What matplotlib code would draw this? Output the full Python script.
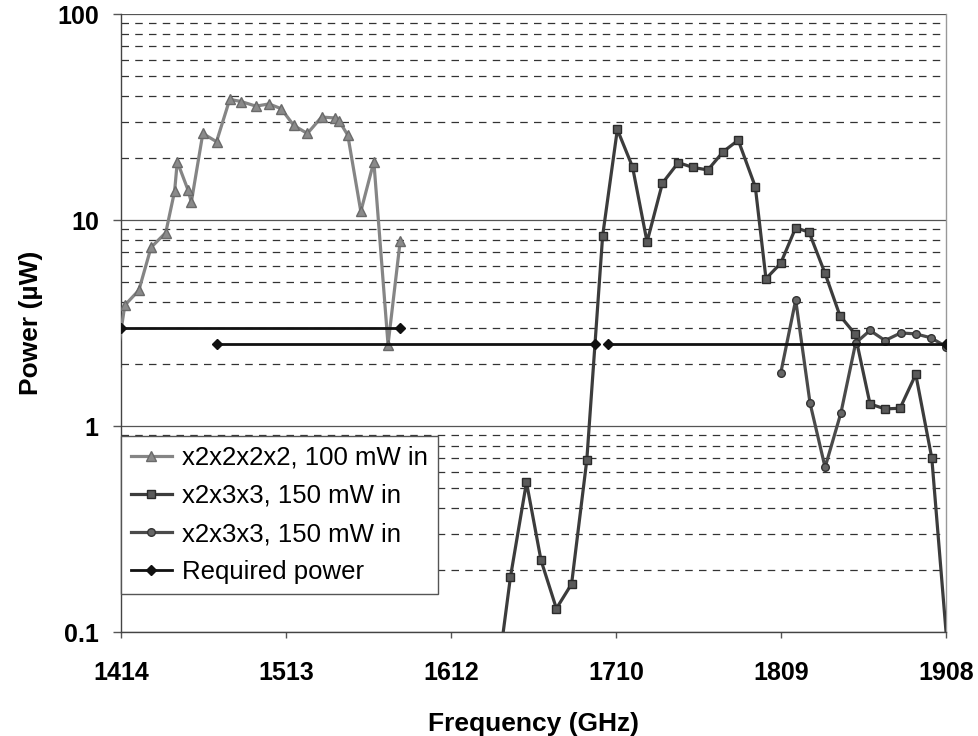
import numpy as np
from matplotlib import pyplot as plt
from matplotlib.ticker import FixedLocator, NullFormatter

plt.rcParams['font.family'] = ['Liberation Sans', 'DejaVu Sans']

# x2x2x2x2, 100 mW in
tri_f = [1411, 1416.3, 1424.7, 1432.0, 1440.8, 1446.1, 1447.7, 1454.1, 1456.1, 1463.0,
         1471.2, 1479.1, 1485.9, 1494.8, 1502.6, 1509.9, 1517.4, 1525.6, 1534.1, 1541.9,
         1544.8, 1549.8, 1557.6, 1565.4, 1573.9, 1581.2]
tri_p = [2.0, 3.86, 4.56, 7.36, 8.68, 13.8, 19.2, 14.0, 12.2, 26.3,
         24.0, 38.5, 37.6, 35.7, 36.6, 34.7, 28.8, 26.3, 31.6, 31.3,
         30.1, 25.8, 11.0, 19.2, 2.48, 7.93]

# x2x3x3, 150 mW in (squares)
sq_f = [1638, 1647.2, 1656.8, 1665.5, 1674.7, 1683.8, 1692.9, 1702.4, 1711.2, 1720.3,
        1729.0, 1738.2, 1747.7, 1756.4, 1765.4, 1774.7, 1783.6, 1793.8, 1800.2, 1809.0,
        1818.0, 1826.0, 1835.6, 1844.5, 1853.5, 1862.5, 1871.5, 1880.5, 1889.9, 1899.5, 1909]
sq_p = [0.05, 0.185, 0.533, 0.223, 0.130, 0.171, 0.681, 8.38, 27.5, 18.1,
        7.83, 15.1, 19.0, 18.0, 17.5, 21.5, 24.4, 14.5, 5.19, 6.16,
        9.17, 8.73, 5.50, 3.43, 2.80, 1.28, 1.21, 1.22, 1.78, 0.698, 0.08]

# x2x3x3, 150 mW in (circles)
ci_f = [1809.0, 1818.0, 1826.6, 1835.6, 1845.1, 1853.9, 1862.5, 1871.5, 1880.9, 1889.9,
        1899.0, 1908.0, 1912]
ci_p = [1.80, 4.09, 1.29, 0.63, 1.16, 2.53, 2.91, 2.60, 2.83, 2.80,
        2.68, 2.43, 1.9]

# Required power
req_f = [1414, 1581.2, np.nan, 1471.2, 1698.0, np.nan, 1705.7, 1908]
req_p = [3.0, 3.0, np.nan, 2.5, 2.5, np.nan, 2.5, 2.5]

x_ticks = [1414, 1513, 1612, 1710, 1809, 1908]

fig = plt.figure(figsize=(9.79, 7.36), dpi=100)
ax = fig.add_axes([121/979, 1 - 632/736, 825/979, 618/736])

ax.plot(tri_f, tri_p, color='#858585', lw=2.3, marker='^', ms=7,
        mfc='#8a8a8a', mec='#6a6a6a', label='x2x2x2x2, 100 mW in', zorder=3)
ax.plot(sq_f, sq_p, color='#3c3c3c', lw=2.3, marker='s', ms=5.5,
        mfc='#5a5a5a', mec='#2a2a2a', label='x2x3x3, 150 mW in', zorder=3)
ax.plot(ci_f, ci_p, color='#4a4a4a', lw=2.3, marker='o', ms=5.5,
        mfc='#666666', mec='#333333', label='x2x3x3, 150 mW in', zorder=3)
ax.plot(req_f, req_p, color='#111111', lw=2.0, marker='D', ms=5,
        mfc='#111111', mec='#111111', label='Required power', zorder=4)

ax.set_yscale('log')
ax.set_ylim(0.1, 100)
ax.set_xlim(1414, 1908)

ax.set_xticks(np.linspace(1414, 1908, 6))
ax.set_xticklabels([str(t) for t in x_ticks])
ax.set_yticks([0.1, 1, 10, 100])
ax.set_yticklabels(['0.1', '1', '10', '100'])
ax.yaxis.set_minor_locator(FixedLocator(
    [m * 10.0**e for e in (-1, 0, 1) for m in range(2, 10)]))
ax.yaxis.set_minor_formatter(NullFormatter())
ax.tick_params(axis='y', which='minor', length=0)
ax.tick_params(axis='y', which='major', length=6, width=1, color='#555555',
               labelsize=18, pad=10)
ax.tick_params(axis='x', which='major', length=4, width=1, color='#555555',
               labelsize=18, pad=17)
for lab in ax.get_xticklabels() + ax.get_yticklabels():
    lab.set_fontweight('bold')

ax.yaxis.grid(True, which='major', color='#555555', lw=0.9, ls='-')
ax.yaxis.grid(True, which='minor', color='#333333', lw=0.9, ls=(0, (6, 5)))
ax.set_axisbelow(True)

for s in ['left', 'bottom', 'right']:
    ax.spines[s].set_color('#444444')
    ax.spines[s].set_linewidth(1.0)
ax.spines['right'].set_color('#999999')
ax.spines['top'].set_visible(False)

ax.set_xlabel('Frequency (GHz)', fontsize=19, fontweight='bold', labelpad=19)
ax.set_ylabel('Power (µW)', fontsize=19, fontweight='bold', labelpad=10)

leg = ax.legend(loc='upper left', bbox_to_anchor=(0.0, (632 - 436) / 618),
                borderaxespad=0, fontsize=18.5, frameon=True, fancybox=False,
                handlelength=1.6, handletextpad=0.4, labelspacing=0.55,
                borderpad=0.38)
leg.get_frame().set_edgecolor('#555555')
leg.get_frame().set_linewidth(1.0)
leg.get_frame().set_alpha(1)

fig.savefig('out.png', dpi=100)
